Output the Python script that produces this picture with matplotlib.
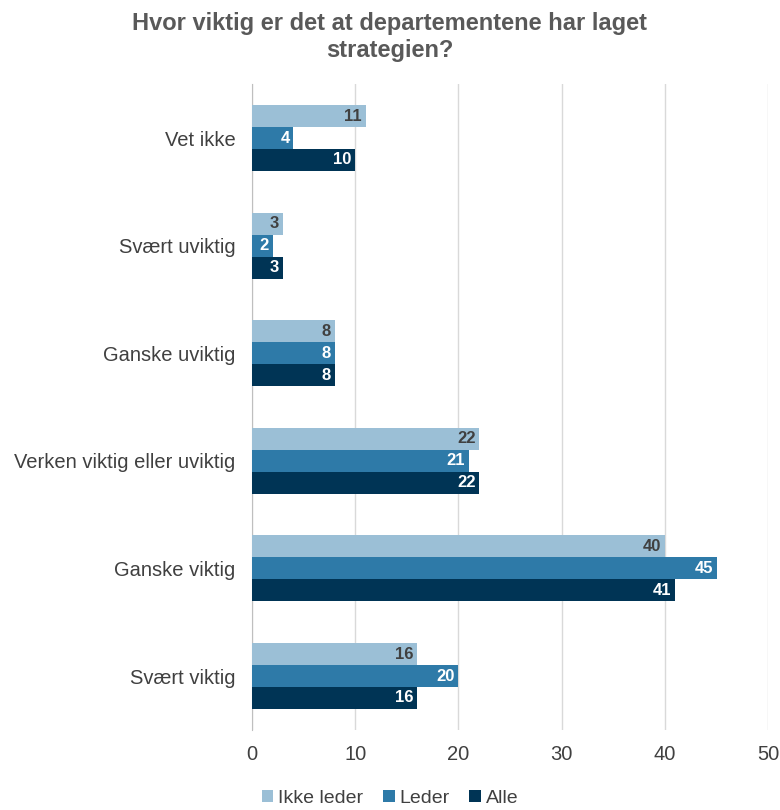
import numpy as np
import matplotlib.pyplot as plt

plt.rcParams['font.family'] = ['Liberation Sans', 'DejaVu Sans']

categories = ['Svært viktig', 'Ganske viktig', 'Verken viktig eller uviktig',
              'Ganske uviktig', 'Svært uviktig', 'Vet ikke']
ikke_leder = [16, 40, 22, 8, 3, 11]
leder = [20, 45, 21, 8, 2, 4]
alle = [16, 41, 22, 8, 3, 10]

series = [('Ikke leder', ikke_leder, '#9bbfd6', '#404040'),
          ('Leder', leder, '#2e7aa8', 'white'),
          ('Alle', alle, '#003455', 'white')]

fig = plt.figure(figsize=(7.8, 8.1), dpi=100)
ax = fig.add_axes([0.323, 0.099, 0.662, 0.797])

y = np.arange(len(categories))
h = 0.204
offsets = [h, 0, -h]
for (name, vals, col, tcol), off in zip(series, offsets):
    bars = ax.barh(y + off, vals, height=h, color=col, label=name, zorder=3)
    for b, v in zip(bars, vals):
        ax.text(b.get_width() - 0.35, b.get_y() + h / 2, str(v), ha='right',
                va='center', color=tcol, fontsize=12, fontweight='bold', zorder=4)

ax.set_xlim(0, 50)
ax.set_ylim(-0.5, len(categories) - 0.5)
ax.set_xticks(range(0, 51, 10))
ax.set_yticks(y)
ax.set_yticklabels(categories, fontsize=14.5, color='#404040')
ax.tick_params(axis='x', labelsize=14.5, colors='#404040', length=0, pad=11)
ax.tick_params(axis='y', length=0, pad=12)
ax.grid(axis='x', color='#d9d9d9', linewidth=1, zorder=0)
for s in ['top', 'right', 'bottom']:
    ax.spines[s].set_visible(False)
ax.spines['left'].set_color('#bfbfbf')

fig.suptitle('Hvor viktig er det at departementene har laget\nstrategien?',
             x=0.5, y=0.985, fontsize=17, fontweight='bold', color='#595959',
             linespacing=1.2)

fig.legend(loc='lower center', bbox_to_anchor=(0.5, -0.018), ncol=3,
           frameon=False, fontsize=14, handlelength=0.6, handleheight=0.6,
           handletextpad=0.25, columnspacing=1.0, labelcolor='#404040')

fig.savefig('out.png', dpi=100)
